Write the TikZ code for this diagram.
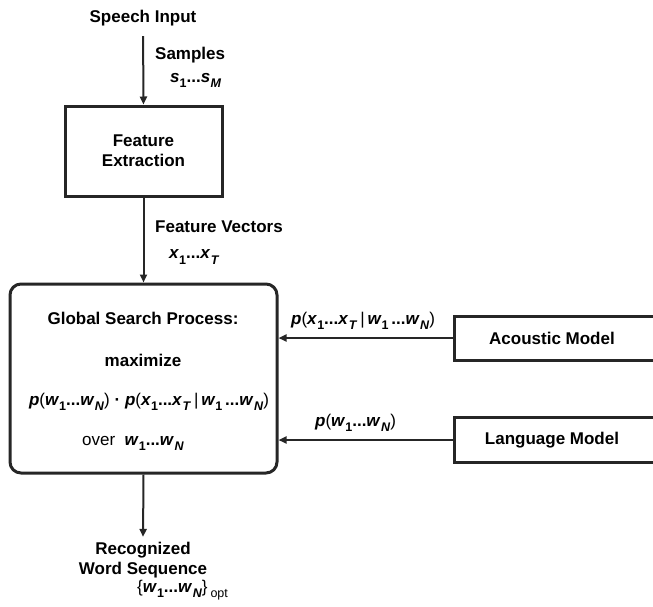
\documentclass[tikz,border=0pt]{standalone}
\usepackage{fontspec}
\setmainfont{Liberation Sans}
\usetikzlibrary{arrows.meta}
\newcommand\mybi[1]{\textbf{\textit{#1}}}
\newcommand\mysbx[1]{\raisebox{-0.3em}{\fontsize{12.5}{13}\selectfont #1}}
\newcommand\mysb[1]{\kern0.5pt\mysbx{\textbf{\textit{#1}}}}
\newcommand\myone{\mysbx{\textbf{1}}}
\newcommand\myel{\textbf{...}}
\begin{document}
\begin{tikzpicture}[x=1pt,y=-1pt,
  font=\fontsize{17}{21}\selectfont\bfseries,
  txt/.style={inner sep=0pt, align=center},
  boxa/.style={draw=black!85, line width=3pt, inner sep=0pt, align=center},
  arr/.style={draw=black!85, line width=2pt, -{Triangle[length=8pt,width=7pt]}}]
\useasboundingbox (0,0) rectangle (653,606);

\node[txt] (speech) at (143,18) {Speech Input};
\node[boxa, minimum width=157pt, minimum height=90pt] (fe) at (143.5,151) {Feature\\[-1pt]Extraction};
\node[boxa, rounded corners=11pt, minimum width=267pt, minimum height=189pt] (gsp) at (143.5,378.5) {};
\node[boxa, minimum width=200pt, minimum height=44pt] (am) at (554,338) {\hspace*{-4pt}Acoustic Model};
\node[boxa, minimum width=200pt, minimum height=45pt] (lm) at (554,440) {\hspace*{-4pt}Language Model};
\node[txt] (rec) at (143,560) {Recognized\\[-1pt]Word Sequence};
\node[txt, anchor=west, font=\fontsize{17}{21}\selectfont\mdseries] (opt) at (137,590)
  {\{\mybi{w}\myone\myel\mybi{w}\mysb{N}\}\,\mysbx{opt}};

% labels on connectors
\node[txt, anchor=west] (samp) at (155,55) {Samples};
\node[txt, anchor=west] (sm) at (170,80) {\mybi{s}\myone\myel\mybi{s}\mysb{M}};
\node[txt, anchor=west] (fv) at (155,227) {Feature Vectors};
\node[txt, anchor=west] (xt) at (169,257) {\mybi{x}\myone\myel\mybi{x}\mysb{T}};
\node[txt, anchor=west, font=\fontsize{17}{21}\selectfont\mdseries] (aml) at (291,321)
  {\mybi{p}(\mybi{x}\myone\myel\mybi{x}\mysb{T}\,|\,\mybi{w}\myone\,\myel\mybi{w}\mysb{N})};
\node[txt, anchor=west, font=\fontsize{17}{21}\selectfont\mdseries] (lml) at (315,423)
  {\mybi{p}(\mybi{w}\myone\myel\mybi{w}\mysb{N})};

% text inside the search box
\node[txt] (g1) at (143,318) {Global Search Process:};
\node[txt] (g2) at (143,360) {maximize};
\node[txt, font=\fontsize{17}{21}\selectfont\mdseries] (g3) at (149,402)
  {\mybi{p}(\mybi{w}\myone\myel\mybi{w}\mysb{N}) \textbf{·} \mybi{p}(\mybi{x}\myone\myel\mybi{x}\mysb{T}\,|\,\mybi{w}\myone\,\myel\mybi{w}\mysb{N})};
\node[txt, font=\fontsize{17}{21}\selectfont\mdseries] (g4) at (133,443)
  {over\ \ \mybi{w}\myone\myel\mybi{w}\mysb{N}};

% connectors
\draw[arr, shorten <=10pt] (speech.south) -- (fe.north);
\draw[arr] (fe.south) -- (gsp.north);
\draw[arr] (am.west) -- (am.west -| gsp.east);
\draw[arr] (lm.west) -- (lm.west -| gsp.east);
\draw[arr, shorten >=5pt] (gsp.south) -- (rec.north);
\end{tikzpicture}
\end{document}
